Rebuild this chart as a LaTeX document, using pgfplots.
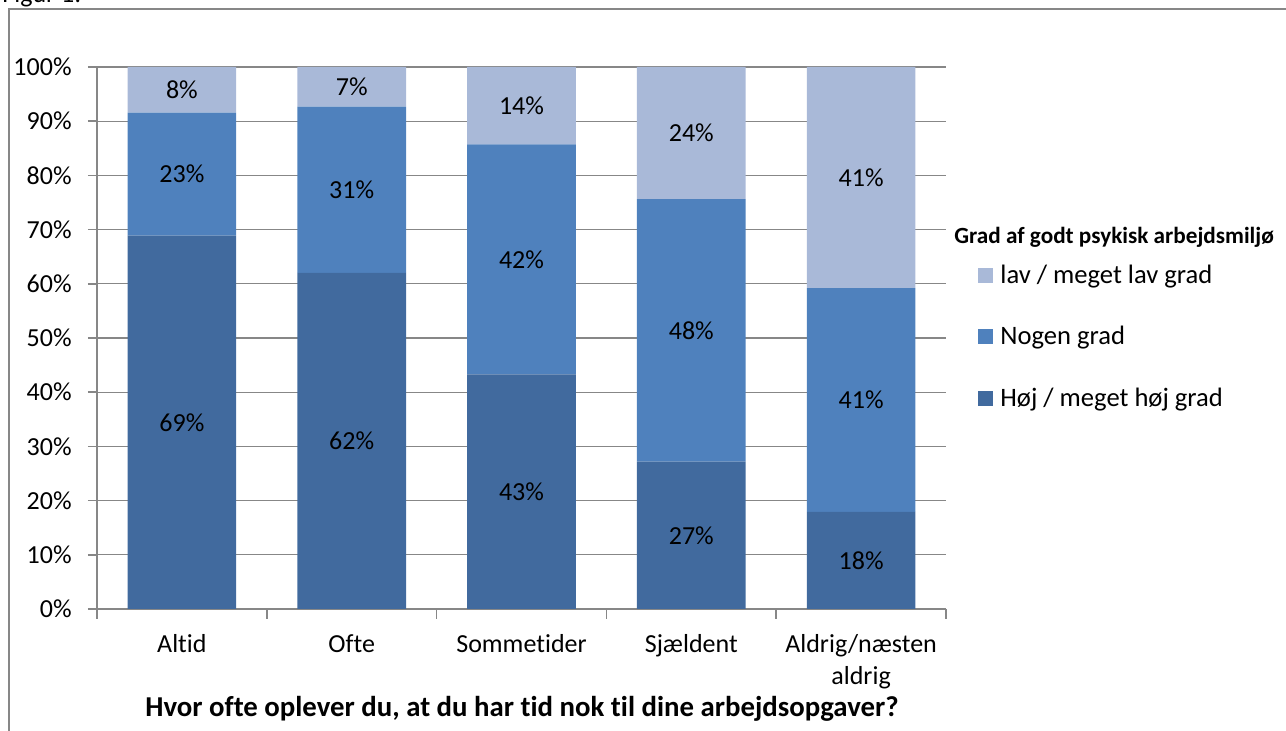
\documentclass[border=0pt]{standalone}
\usepackage{pgfplots}
\pgfplotsset{compat=1.18}
\usepackage{fontspec}
\setmainfont{Carlito}[Ligatures=NoCommon]
\definecolor{hoej}{HTML}{416A9E}
\definecolor{nogen}{HTML}{4F81BD}
\definecolor{lav}{HTML}{A9B9D8}
\definecolor{gridc}{HTML}{878787}
\begin{document}
\begin{tikzpicture}[x=0.5pt,y=0.5pt]
\useasboundingbox (0,0) rectangle (1286,731);
\clip (0,0) rectangle (1286,731);
\draw[gridc, line width=0.9pt] (9,-10) -- (9,722) -- (1300,722);
\node[anchor=base west, inner sep=0, font=\fontsize{13}{15}\selectfont] at (2,728) {Figur 1:};
\begin{axis}[
  at={(48.5pt,61pt)}, anchor=south west, scale only axis,
  width=424.5pt, height=271pt,
  xmin=-0.5, xmax=4.5, ymin=0, ymax=100,
  ybar stacked, bar width=0.64,
  axis lines*=left, axis line style={gridc, line width=0.8pt, -},
  ymajorgrids, grid style={gridc, line width=0.6pt},
  tick align=outside, major tick length=4.5pt,
  xtick={0,...,4},
  xticklabels={Altid, Ofte, Sommetider, Sjældent, {Aldrig/næsten\\aldrig}},
  xtick style={draw=none},
  extra x ticks={-0.5,0.5,1.5,2.5,3.5,4.5},
  extra x tick labels={},
  extra x tick style={xtick style={draw=gridc, line width=0.8pt}, major tick length=5pt},
  ytick={0,10,...,100},
  ytick style={draw=gridc, line width=0.8pt},
  yticklabel={\pgfmathprintnumber{\tick}\%},
  /pgf/number format/assume math mode=true,
  tick label style={font=\fontsize{13}{16}\selectfont},
  xticklabel style={anchor=north, align=center, inner sep=0pt, yshift=-8pt},
  yticklabel style={anchor=east, inner sep=0pt, xshift=-8pt},
  xlabel={Hvor ofte oplever du, at du har tid nok til dine arbejdsopgaver?},
  xlabel style={at={(axis description cs:0.5006,0)}, anchor=center, yshift=-50pt, font=\bfseries\fontsize{14.4}{17}\selectfont},
  legend image code/.code={\fill[#1, draw=none] (0pt,-3.75pt) rectangle (7.5pt,3.75pt);},
  reverse legend,
  legend cell align=left,
  legend style={draw=none, fill=none, inner sep=0pt, at={(1.0377,0.502)}, anchor=west,
    row sep=20pt, font=\fontsize{13.3}{16}\selectfont, nodes={inner sep=0pt},
    /tikz/every odd column/.style={column sep=3.5pt}},
]
\addplot[fill=hoej, draw=none] coordinates {(0,68.9) (1,62.0) (2,43.3) (3,27.2) (4,17.9)};
\addlegendentry{Høj / meget høj grad}
\addplot[fill=nogen, draw=none] coordinates {(0,22.7) (1,30.7) (2,42.4) (3,48.4) (4,41.3)};
\addlegendentry{Nogen grad}
\addplot[fill=lav, draw=none] coordinates {(0,8.4) (1,7.3) (2,14.3) (3,24.4) (4,40.8)};
\addlegendentry{lav / meget lav grad}
\end{axis}
\begin{axis}[
  at={(48.5pt,61pt)}, anchor=south west, scale only axis,
  width=424.5pt, height=271pt,
  xmin=-0.5, xmax=4.5, ymin=0, ymax=100, hide axis,
  point meta=explicit,
  nodes near coords={\pgfmathprintnumber[fixed,precision=0,assume math mode=true]{\pgfplotspointmeta}\%},
  nodes near coords style={anchor=center, font=\fontsize{13}{16}\selectfont},
]
\addplot[draw=none, mark=none] table[meta=lab] {
x y lab
0 34.45 69
1 31.00 62
2 21.65 43
3 13.60 27
4 8.95 18
};
\addplot[draw=none, mark=none] table[meta=lab] {
x y lab
0 80.25 23
1 77.35 31
2 64.50 42
3 51.40 48
4 38.55 41
};
\addplot[draw=none, mark=none] table[meta=lab] {
x y lab
0 95.80 8
1 96.35 7
2 92.85 14
3 87.80 24
4 79.60 41
};
\end{axis}
\node[anchor=west, inner sep=0pt, font=\bfseries\fontsize{11.6}{13}\selectfont] at (954,494) {Grad af godt psykisk arbejdsmiljø};
\end{tikzpicture}
\end{document}
